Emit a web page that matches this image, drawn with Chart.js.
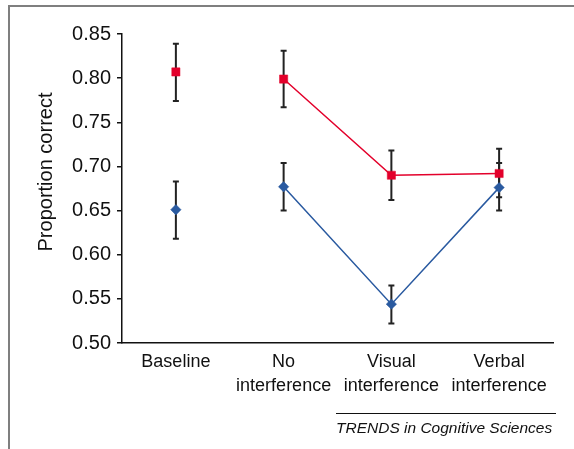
<!DOCTYPE html>
<html>
<head>
<meta charset="utf-8">
<script src="https://cdn.jsdelivr.net/npm/chart.js@4.4.1/dist/chart.umd.min.js"></script>
<style>
  html, body { margin: 0; padding: 0; background: #fff; }
  .wrapper { position: relative; width: 574px; height: 449px; overflow: hidden; }
  .frame { position: absolute; left: 8px; top: 5px; right: -4px; bottom: -4px; border-top: 2px solid #7f7f7f; border-left: 2px solid #7f7f7f; }
  #chart { position: absolute; left: 0; top: 0; }
  .source { position: absolute; left: 336px; top: 413px; width: 220px; border-top: 1px solid #111; font: italic 15.5px "Liberation Sans", Arial, sans-serif; color: #111; padding-top: 5px; white-space: nowrap; }
</style>
</head>
<body>
<div class="wrapper">
  <div class="frame"></div>
  <canvas id="chart" width="574" height="449"></canvas>
  <div class="source">TRENDS in Cognitive Sciences</div>
</div>
<script>
// categories and values
var categories = ["Baseline", ["No", "interference"], ["Visual", "interference"], ["Verbal", "interference"]];
var yTicks = [0.50, 0.55, 0.60, 0.65, 0.70, 0.75, 0.80, 0.85];

var redValues = [0.807, 0.799, 0.690, 0.692];
var redLow = [0.774, 0.767, 0.662, 0.665];
var redHigh = [0.839, 0.831, 0.718, 0.720];

var blueValues = [0.651, 0.677, 0.544, 0.676];
var blueLow = [0.618, 0.650, 0.522, 0.650];
var blueHigh = [0.683, 0.704, 0.565, 0.704];

var RED = "#e3002b";
var BLUE = "#2a5aa0";
var FONT = '"Liberation Sans", Arial, sans-serif';

// skip the segment from Baseline to the first condition
function segColor(color) {
  return function (ctx) {
    return ctx.p0DataIndex === 0 ? "rgba(0,0,0,0)" : color;
  };
}

// Error bars
var errorBars = {
  id: "errorBars",
  beforeDatasetsDraw: function (chart) {
    var ctx = chart.ctx;
    var x = chart.scales.x;
    var y = chart.scales.y;
    var sets = [[redLow, redHigh], [blueLow, blueHigh]];
    ctx.save();
    ctx.strokeStyle = "#222";
    ctx.lineWidth = 2;
    sets.forEach(function (s) {
      for (var i = 0; i < categories.length; i++) {
        var px = x.getPixelForValue(i);
        var lo = y.getPixelForValue(s[0][i]);
        var hi = y.getPixelForValue(s[1][i]);
        ctx.beginPath();
        ctx.moveTo(px, lo);
        ctx.lineTo(px, hi);
        ctx.moveTo(px - 3, lo);
        ctx.lineTo(px + 3, lo);
        ctx.moveTo(px - 3, hi);
        ctx.lineTo(px + 3, hi);
        ctx.stroke();
      }
    });
    ctx.restore();
  }
};

// Rotated y title, placed a bit above centre like the original
var yTitle = {
  id: "yTitle",
  afterDraw: function (chart) {
    var ctx = chart.ctx;
    ctx.save();
    ctx.translate(46, 172);
    ctx.rotate(-Math.PI / 2);
    ctx.font = "20px " + FONT;
    ctx.fillStyle = "#111";
    ctx.textAlign = "center";
    ctx.textBaseline = "middle";
    ctx.fillText("Proportion correct", 0, 0);
    ctx.restore();
  }
};

var chartCanvas = document.getElementById("chart");
var ctx = chartCanvas.getContext("2d");
var chart = new Chart(ctx, {
  type: "line",
  data: {
    labels: categories,
    datasets: [
      {
        label: "Red",
        data: redValues,
        borderColor: RED,
        backgroundColor: RED,
        borderWidth: 1.5,
        pointStyle: "rect",
        pointRadius: 5.8,
        pointBorderWidth: 0.5,
        segment: { borderColor: segColor(RED) },
      },
      {
        label: "Blue",
        data: blueValues,
        borderColor: BLUE,
        backgroundColor: BLUE,
        borderWidth: 1.5,
        pointStyle: "rectRot",
        pointRadius: 5.2,
        pointBorderWidth: 0.5,
        segment: { borderColor: segColor(BLUE) },
      },
    ],
  },
  options: {
    responsive: false,
    animation: false,
    devicePixelRatio: 1,
    layout: { padding: { left: 0, right: 21, top: 34, bottom: 0 } },
    plugins: {
      legend: { display: false },
      tooltip: { enabled: false },
    },
    scales: {
      x: {
        offset: true,
        grid: { display: false, drawTicks: false },
        border: { display: true, color: "#111", width: 1.5 },
        ticks: {
          color: "#111",
          padding: 8,
          maxRotation: 0,
          autoSkip: false,
          font: { family: FONT, size: 18, lineHeight: 1.28 },
        },
        afterFit: function (s) { s.height = 106; },
      },
      y: {
        min: 0.5,
        max: 0.85,
        afterBuildTicks: function (s) {
          s.ticks = yTicks.map(function (v) { return { value: v }; });
        },
        grid: { drawOnChartArea: false, drawTicks: true, tickLength: 5, color: "#111", lineWidth: 1.5 },
        border: { display: true, color: "#111", width: 1.5 },
        ticks: {
          color: "#111",
          padding: 6,
          font: { family: FONT, size: 20 },
          callback: function (v) { return Number(v).toFixed(2); },
        },
        afterFit: function (s) { s.width = 122; },
      },
    },
  },
  plugins: [errorBars, yTitle],
});
</script>
</body>
</html>
